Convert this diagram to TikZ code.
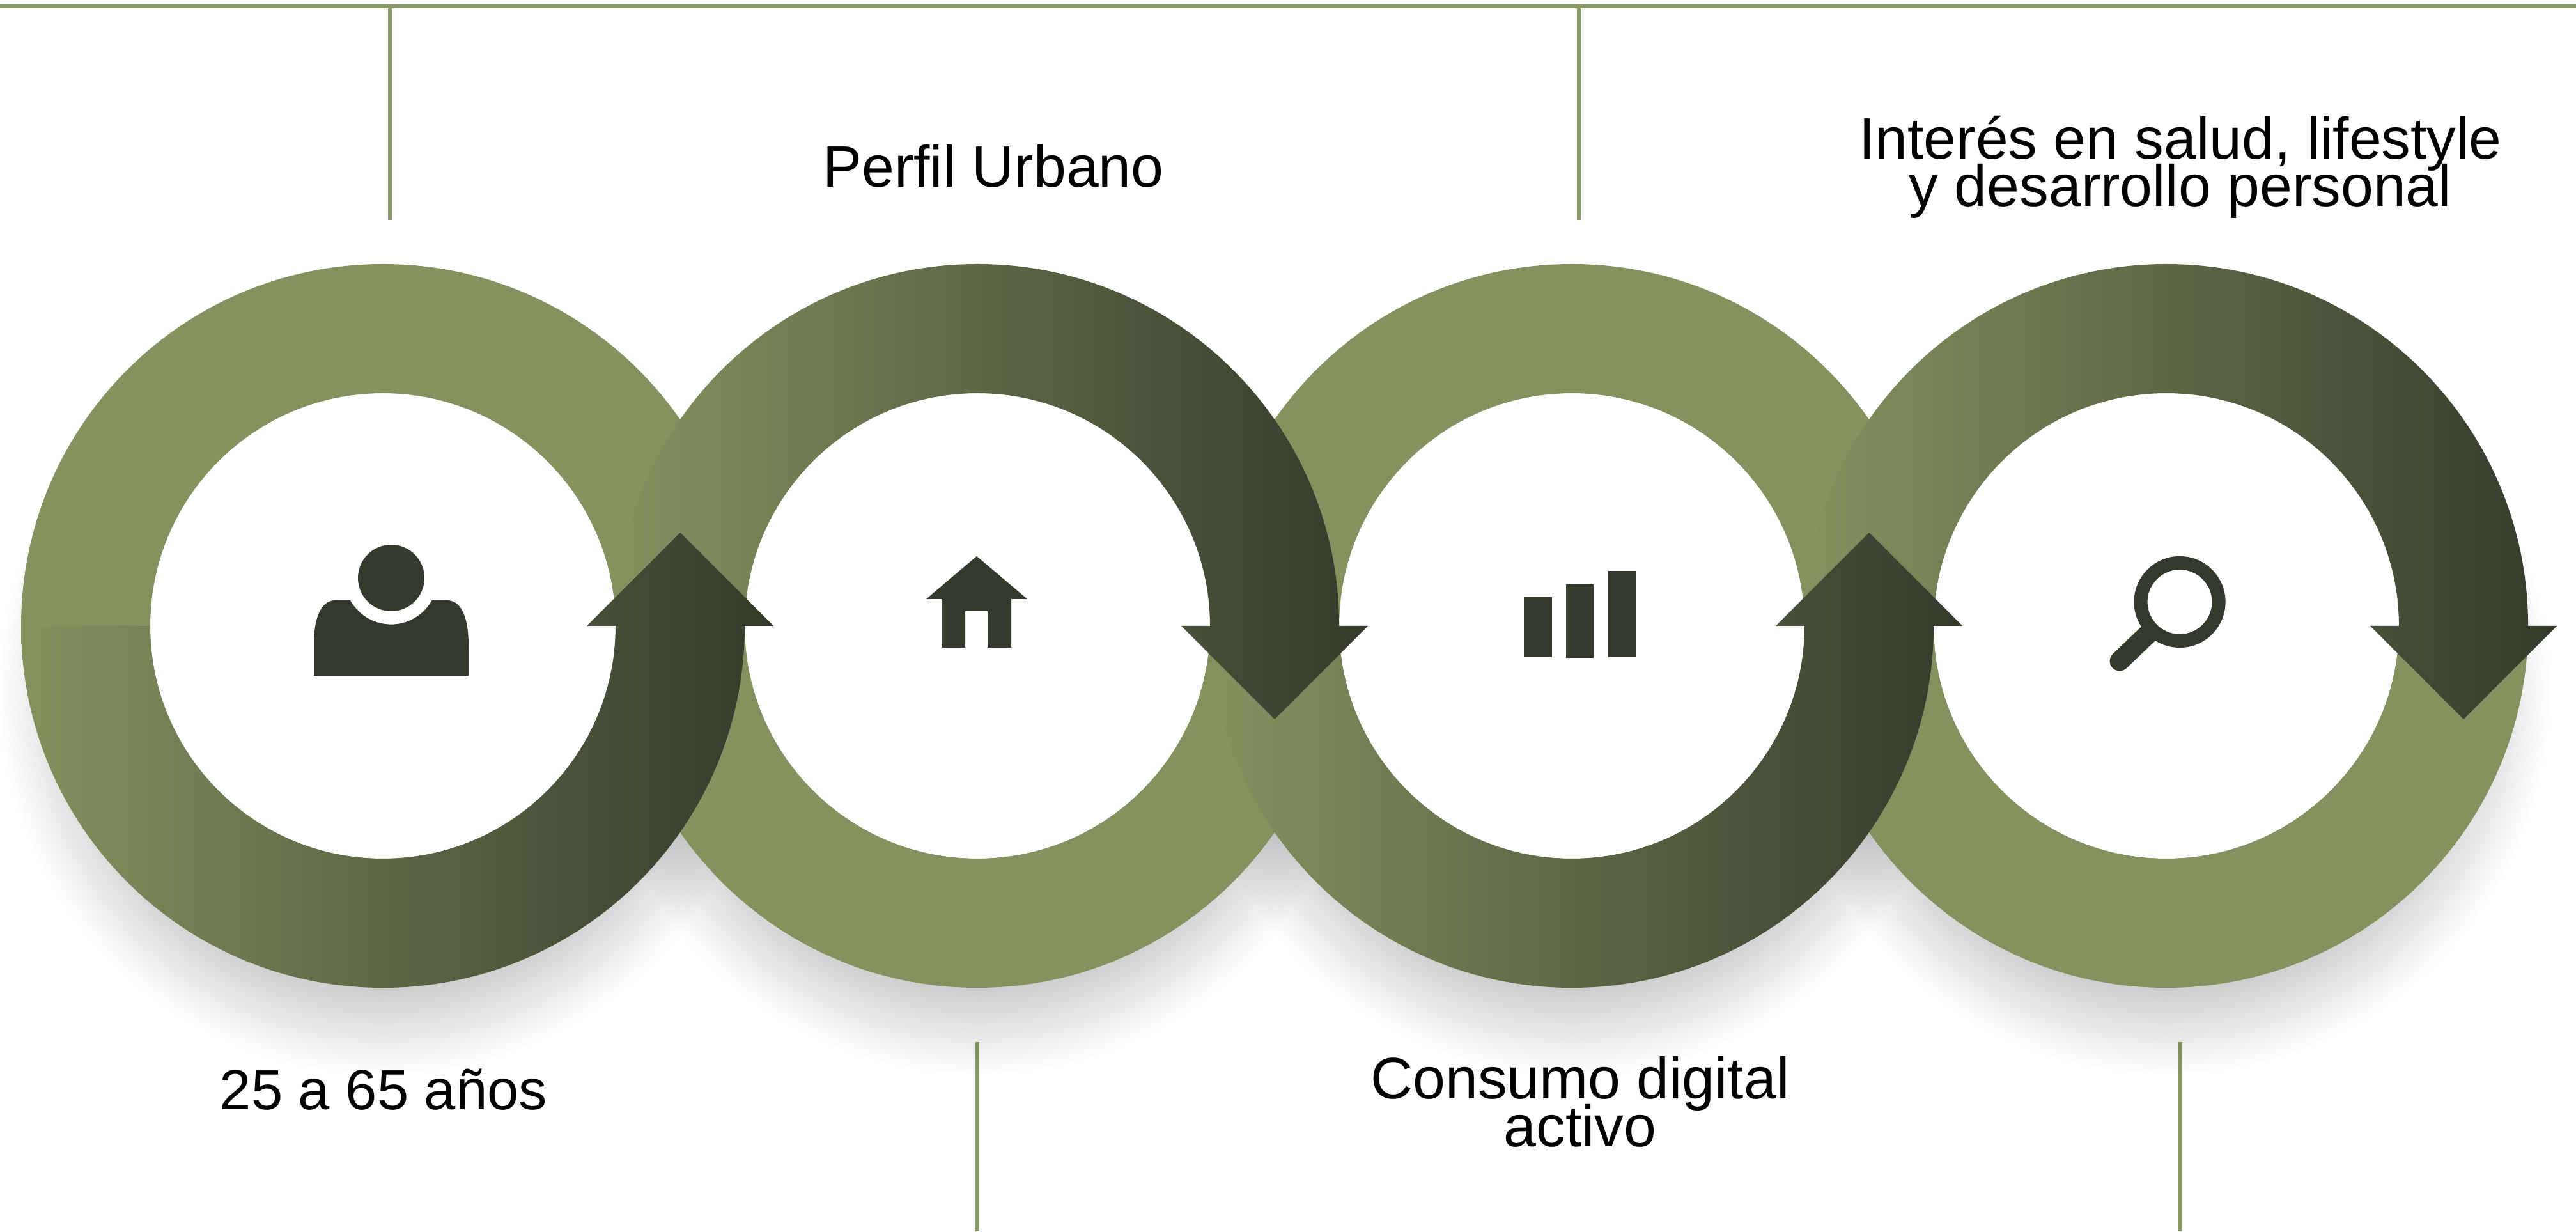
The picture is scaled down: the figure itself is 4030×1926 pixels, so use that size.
\documentclass[tikz,border=0pt]{standalone}
\usepackage{fontspec}
\setmainfont{Liberation Sans}
\usetikzlibrary{fadings}
\tikzfading[name=softshadow, inner color=transparent!15, outer color=transparent!100]
\tikzset{
  caption/.style={anchor=base, align=center, inner sep=0pt, text=black, font=\fontsize{26}{21.6}\selectfont},
  rule/.style={draw=linecol, line width=1.5pt},
  flatring/.style={fill=ringcol},
  arrowring/.style={left color=ringcol, right color=darkcol},
  icon/.style={fill=darkcol},
  shadowdisc/.style={fill=black, path fading=softshadow},
}
\begin{document}
\begin{tikzpicture}[x=0.1mm, y=0.1mm]
\definecolor{ringcol}{HTML}{84925F}
\definecolor{darkcol}{HTML}{333A2B}
\definecolor{linecol}{HTML}{8A9A66}
\useasboundingbox (0,0) rectangle (4030,1926);
\fill[white] (0,0) rectangle (4030,1926);
% rules
\coordinate (topstart) at (0,1916);
\coordinate (topend) at (4030,1916);
\coordinate (topa) at (610,1916);
\coordinate (topaend) at (610,1582);
\coordinate (topb) at (2470,1916);
\coordinate (topbend) at (2470,1582);
\coordinate (lowa) at (1529,296);
\coordinate (lowaend) at (1529,0);
\coordinate (lowb) at (3411,296);
\coordinate (lowbend) at (3411,0);
\draw[rule] (topstart) -- (topend);
\draw[rule] (topa) -- (topaend);
\draw[rule] (topb) -- (topbend);
\draw[rule] (lowa) -- (lowaend);
\draw[rule] (lowb) -- (lowbend);
% shadows
\fill[shadowdisc] (599,846) circle (600);
\fill[shadowdisc] (1529,846) circle (600);
\fill[shadowdisc] (2459,846) circle (600);
\fill[shadowdisc] (3389,846) circle (600);
\fill[white] (599,947) circle (364);
\fill[white] (1529,947) circle (364);
\fill[white] (2459,947) circle (364);
\fill[white] (3389,947) circle (364);
% flat halves
\fill[flatring] (33,947) arc[start angle=180, end angle=0, radius=566] -- (963,947) arc[start angle=0, end angle=180, radius=364] -- cycle;
\fill[flatring] (963,947) arc[start angle=180, end angle=360, radius=566] -- (1893,947) arc[start angle=360, end angle=180, radius=364] -- cycle;
\fill[flatring] (1893,947) arc[start angle=180, end angle=0, radius=566] -- (2823,947) arc[start angle=0, end angle=180, radius=364] -- cycle;
\fill[flatring] (2823,947) arc[start angle=180, end angle=360, radius=566] -- (3753,947) arc[start angle=360, end angle=180, radius=364] -- cycle;
% arrow halves
\shade[arrowring] (2823,947) arc[start angle=180, end angle=0, radius=566] -- (4000,947) -- (3854,801) -- (3708,947) -- (3753,947) arc[start angle=0, end angle=180, radius=364] -- cycle;
\shade[arrowring] (1893,947) arc[start angle=180, end angle=360, radius=566] -- (3070,947) -- (2924,1093) -- (2778,947) -- (2823,947) arc[start angle=360, end angle=180, radius=364] -- cycle;
\shade[arrowring] (963,947) arc[start angle=180, end angle=0, radius=566] -- (2140,947) -- (1994,801) -- (1848,947) -- (1893,947) arc[start angle=0, end angle=180, radius=364] -- cycle;
\shade[arrowring] (33,947) arc[start angle=180, end angle=360, radius=566] -- (1210,947) -- (1064,1093) -- (918,947) -- (963,947) arc[start angle=360, end angle=180, radius=364] -- cycle;
% person
\fill[icon] (612,1022) circle (52);
\fill[icon] (491,869) -- (491,916) .. controls (491,966) and (505,987) .. (525,987) -- (548,987) arc[start angle=209, end angle=331, radius=73] -- (699,987) .. controls (719,987) and (733,966) .. (733,916) -- (733,869) -- cycle;
% house
\fill[icon] (1528,1056) -- (1607,989) -- (1582,989) -- (1582,913) -- (1545,913) -- (1545,970) -- (1510,970) -- (1510,913) -- (1474,913) -- (1474,989) -- (1449,989) -- cycle;
% bars
\fill[icon] (2384,898) rectangle (2428,992);
\fill[icon] (2450,897) rectangle (2493,1012);
\fill[icon] (2516,898) rectangle (2560,1033);
% lens
\draw[draw=darkcol, line width=6pt] (3410,984.5) circle (61);
\draw[draw=darkcol, line width=8.8pt, line cap=round] (3316,892) -- (3362,936);
% captions
\node[caption, font=\fontsize{25.2}{21.6}\selectfont] (age) at (600,191) {25 a 65 años};
\node[caption] (urban) at (1554,1633) {Perfil Urbano};
\node[caption] (digital) at (2472,133) {Consumo digital\\[-4pt]activo};
\node[caption] (health) at (3411,1603) {Interés en salud, lifestyle\\[-4pt]y desarrollo personal};
\end{tikzpicture}
\end{document}
